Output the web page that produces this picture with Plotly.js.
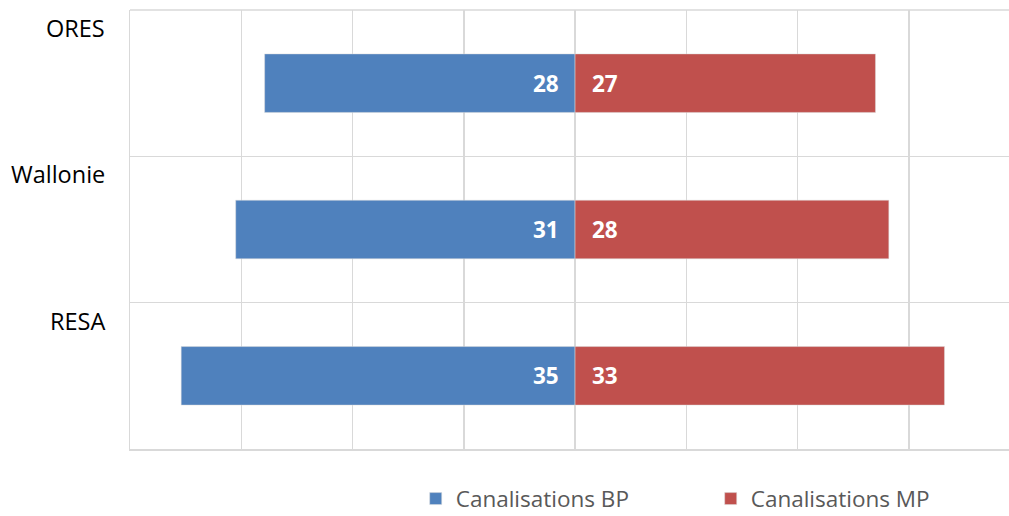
<!DOCTYPE html>
<html><head><meta charset="utf-8">
<script src="https://cdn.plot.ly/plotly-3.0.1.min.js"></script>
<style>html,body{margin:0;padding:0;background:#fff;}#chart{width:1009px;height:516px;}</style>
</head><body><div id="chart"></div>
<script>
const categories = ["ORES", "Wallonie", "RESA"];
const bpValues = [27.9, 30.5, 35.4];
const mpValues = [27.0, 28.2, 33.2];
const bpLabels = ["28", "31", "35"];
const mpLabels = ["27", "28", "33"];
const seriesNames = ["Canalisations BP", "Canalisations MP"];
const xTicks = [-40, -30, -20, -10, 0, 10, 20, 30];

const FONT = "Open Sans, Noto Sans, sans-serif";
const idx = categories.map((c, i) => i);

const traces = [
  {type: "bar", orientation: "h", name: seriesNames[0], y: idx, x: bpValues.map(v => -v),
   width: 0.4, marker: {color: "#4f81bd", line: {color: "#dcdcdc", width: 0.5}}, hoverinfo: "none"},
  {type: "bar", orientation: "h", name: seriesNames[1], y: idx, x: mpValues,
   width: 0.4, marker: {color: "#c0504d", line: {color: "#dcdcdc", width: 0.5}}, hoverinfo: "none"}
];

const annotations = [];
idx.forEach(i => {
  annotations.push({x: 0, y: i, xref: "x", yref: "y", text: "<b>" + bpLabels[i] + "</b>", showarrow: false,
    xanchor: "right", xshift: -14, font: {family: FONT, size: 22.5, color: "#ffffff"}});
  annotations.push({x: 0, y: i, xref: "x", yref: "y", text: "<b>" + mpLabels[i] + "</b>", showarrow: false,
    xanchor: "left", xshift: 15, font: {family: FONT, size: 22.5, color: "#ffffff"}});
  annotations.push({x: 0, xref: "paper", y: i - 0.5, yref: "y", text: categories[i], showarrow: false,
    xanchor: "right", yanchor: "middle", xshift: -23, yshift: -18, font: {family: FONT, size: 23.5, color: "#000000"}});
});

const layout = {
  width: 1009, height: 516,
  margin: {l: 130, r: 0, t: 10, b: 67},
  paper_bgcolor: "#ffffff", plot_bgcolor: "#ffffff",
  barmode: "relative",
  showlegend: true,
  legend: {orientation: "h", xref: "container", yref: "container", x: 0.412, y: 0.033, xanchor: "left", yanchor: "middle",
    entrywidth: 250, entrywidthmode: "pixels", font: {family: FONT, size: 22.5, color: "#595959"}, traceorder: "normal"},
  xaxis: {range: [-40, 39], tickvals: xTicks, showticklabels: false, showgrid: true, gridcolor: "#d9d9d9", gridwidth: 1.5,
    zeroline: false, showline: true, linecolor: "#d9d9d9", linewidth: 1.5, ticks: "", fixedrange: true},
  yaxis: {range: [2.5, -0.5], tickvals: [-0.5, 0.5, 1.5, 2.5], showticklabels: false, showgrid: true, gridcolor: "#d9d9d9", gridwidth: 1.5,
    zeroline: false, showline: true, linecolor: "#d9d9d9", linewidth: 1.5, ticks: "", fixedrange: true},
  shapes: [{type: "line", xref: "paper", yref: "paper", x0: 0, x1: 1, y0: 1, y1: 1, line: {color: "#d9d9d9", width: 1.5}, layer: "below"}],
  annotations: annotations
};

Plotly.newPlot("chart", traces, layout, {displayModeBar: false, staticPlot: true});
</script></body></html>
